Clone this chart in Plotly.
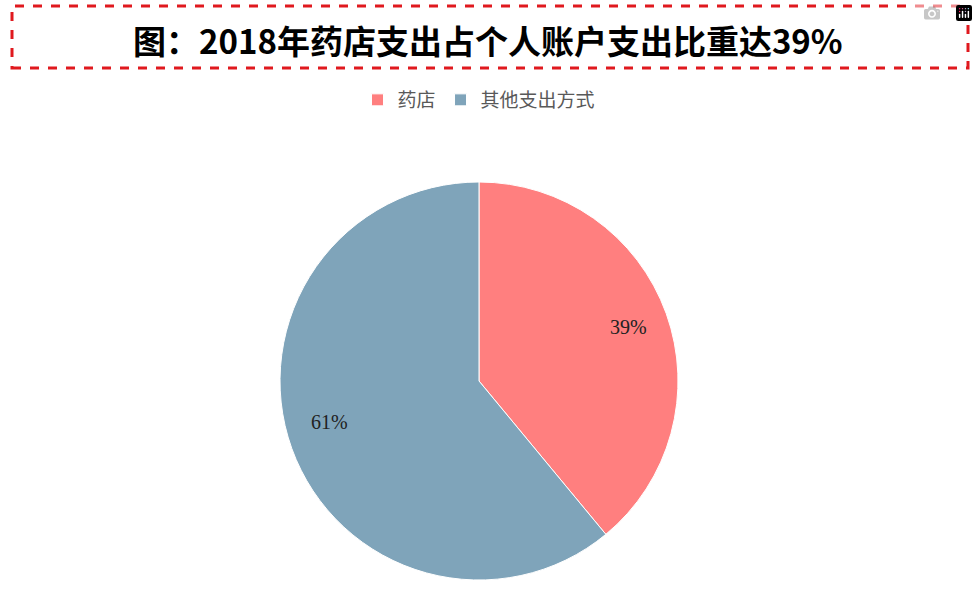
import math
import plotly.graph_objects as go

labels = ["药店", "其他支出方式"]
values = [39, 61]
colors = ["#FF7F7F", "#7FA4BA"]

W, H = 978, 594
cx, cy, r = 479, 381, 199

fig = go.Figure(go.Pie(
    labels=labels,
    values=values,
    sort=False,
    direction="clockwise",
    rotation=0,
    marker=dict(colors=colors, line=dict(color="white", width=1)),
    textinfo="none",
    domain=dict(x=[(cx - r) / W, (cx + r) / W], y=[1 - (cy + r) / H, 1 - (cy - r) / H]),
    hoverinfo="label+percent",
))

# percent labels at 80% of radius, mid-angle of each slice
total = sum(values)
start = 0
for v in values:
    mid = (start + v / 2) / total * 2 * math.pi
    start += v
    fig.add_annotation(text=f"{round(v / total * 100)}%", xref="paper", yref="paper",
                       x=(cx + 0.8 * r * math.sin(mid)) / W,
                       y=1 - (cy - 0.8 * r * math.cos(mid)) / H,
                       showarrow=False,
                       font=dict(family="Liberation Serif", size=20, color="#222222"))

# dashed red title box
fig.add_shape(type="rect", xref="paper", yref="paper",
              x0=12 / W, x1=968 / W, y0=1 - 68 / H, y1=1 - 6 / H,
              line=dict(color="#E0191E", width=3, dash="dash"))
fig.add_annotation(text="<b>图：2018年药店支出占个人账户支出比重达39%</b>",
                   xref="paper", yref="paper", x=488 / W, y=1 - 40 / H,
                   xanchor="center", yanchor="middle", showarrow=False,
                   font=dict(family="Noto Sans CJK SC", size=33, color="black"))

fig.update_layout(
    width=W, height=H,
    margin=dict(l=0, r=0, t=0, b=0),
    paper_bgcolor="white",
    plot_bgcolor="white",
    showlegend=True,
    legend=dict(orientation="h", x=cx / W, xanchor="center",
                y=1 - 100 / H, yanchor="middle",
                font=dict(family="Noto Sans CJK SC", size=19, color="#595959")),
)

fig.write_html("out.html", post_script="document.body.style.margin='0';")
